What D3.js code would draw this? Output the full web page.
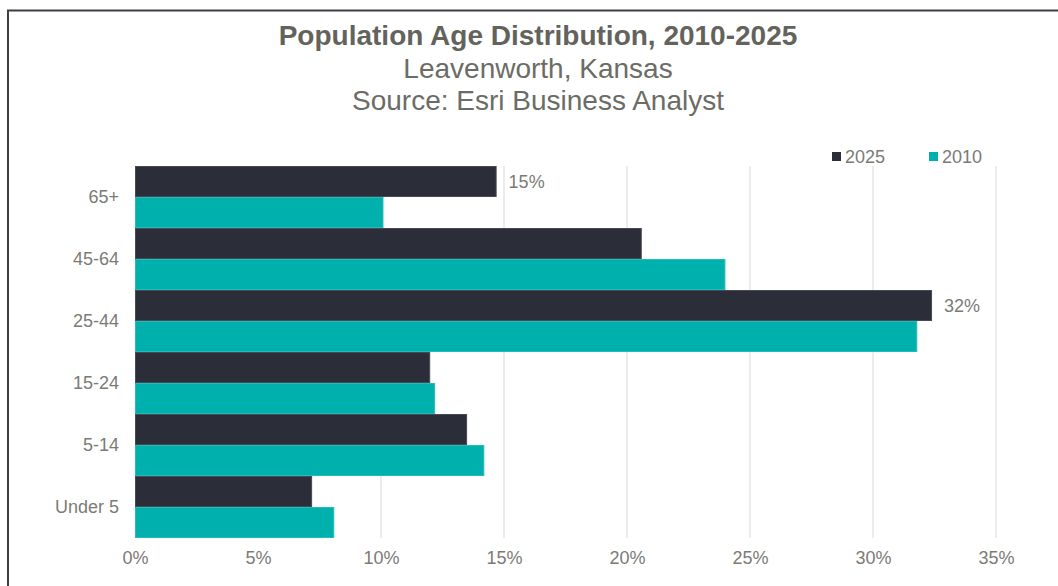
<!DOCTYPE html>
<html>
<head>
<meta charset="utf-8">
<script src="https://cdn.jsdelivr.net/npm/d3@7"></script>
<style>
  body { margin: 0; background: #fff; }
  text { font-family: Arial, "Liberation Sans", sans-serif; }
</style>
</head>
<body>
<script>
// Data
const categories = ["65+", "45-64", "25-44", "15-24", "5-14", "Under 5"];
const seriesNames = ["2025", "2010"];
const values2025 = [14.7, 20.6, 32.4, 12.0, 13.5, 7.2];
const values2010 = [10.1, 24.0, 31.8, 12.2, 14.2, 8.1];
const tickValues = [0, 5, 10, 15, 20, 25, 30, 35];
const labelled2025 = ["65+", "25-44"];

const width = 1058;
const height = 586;
const colors = { "2025": "#2b2e39", "2010": "#00b0ad" };
const edges = { "2025": "#464a54", "2010": "#22bdba" };
const labelColor = "#7b7b76";

const plot = { left: 135, right: 996, top: 166, bottom: 538 };

const svg = d3
  .select("body")
  .append("svg")
  .attr("width", width)
  .attr("height", height)
  .attr("viewBox", `0 0 ${width} ${height}`);

// Frame
svg
  .append("path")
  .attr("d", `M8,${height} L8,10.5 L${width},10.5`)
  .attr("fill", "none")
  .attr("stroke", "#3d3f44")
  .attr("stroke-width", 2);

// Titles
const titles = [
  { text: "Population Age Distribution, 2010-2025", y: 45, size: 28, weight: "bold", fill: "#63635c" },
  { text: "Leavenworth, Kansas", y: 78, size: 28, weight: "normal", fill: "#6c6c66" },
  { text: "Source: Esri Business Analyst", y: 110, size: 28, weight: "normal", fill: "#6c6c66" },
];
svg
  .selectAll(".title")
  .data(titles)
  .enter()
  .append("text")
  .attr("class", "title")
  .attr("x", 538)
  .attr("y", (d) => d.y)
  .attr("text-anchor", "middle")
  .attr("font-size", (d) => d.size)
  .attr("font-weight", (d) => d.weight)
  .attr("fill", (d) => d.fill)
  .text((d) => d.text);

// Scales
const x = d3.scaleLinear().domain([0, 35]).range([plot.left, plot.right]);
const y = d3
  .scaleBand()
  .domain(categories)
  .range([plot.top, plot.bottom])
  .paddingInner(0)
  .paddingOuter(0);
const ySub = d3
  .scaleBand()
  .domain(seriesNames)
  .range([0, y.bandwidth()]);

// Gridlines
svg
  .append("g")
  .selectAll("line")
  .data(tickValues.slice(1))
  .enter()
  .append("line")
  .attr("x1", (d) => x(d))
  .attr("x2", (d) => x(d))
  .attr("y1", plot.top)
  .attr("y2", plot.bottom)
  .attr("stroke", "#dcdfe4")
  .attr("stroke-width", 1.2);

// Bars
const rows = categories.map((c, i) => ({
  category: c,
  series: [
    { name: "2025", value: values2025[i] },
    { name: "2010", value: values2010[i] },
  ],
}));

svg
  .append("g")
  .selectAll("g")
  .data(rows)
  .enter()
  .append("g")
  .attr("transform", (d) => `translate(0, ${y(d.category)})`)
  .selectAll("rect")
  .data((d) => d.series)
  .enter()
  .append("rect")
  .attr("x", x(0) + 0.5)
  .attr("y", (d) => ySub(d.name) + 0.5)
  .attr("width", (d) => x(d.value) - x(0) - 1)
  .attr("height", ySub.bandwidth() - 1)
  .attr("fill", (d) => colors[d.name])
  .attr("stroke", (d) => edges[d.name])
  .attr("stroke-width", 1);

// Data labels
svg
  .append("g")
  .selectAll("text")
  .data(rows.filter((d) => labelled2025.includes(d.category)))
  .enter()
  .append("text")
  .attr("x", (d) => x(d.series[0].value) + 12)
  .attr("y", (d) => y(d.category) + ySub("2025") + ySub.bandwidth() / 2)
  .attr("dy", "0.35em")
  .attr("font-size", 18)
  .attr("fill", labelColor)
  .text((d) => `${Math.round(d.series[0].value)}%`);

// Category axis
const yAxis = svg
  .append("g")
  .attr("transform", `translate(${plot.left}, 0)`)
  .call(d3.axisLeft(y).tickSize(0).tickPadding(16));
yAxis.select(".domain").remove();
yAxis
  .selectAll("text")
  .attr("font-family", "Arial, 'Liberation Sans', sans-serif")
  .attr("font-size", 18)
  .attr("fill", labelColor);

// Value axis
const xAxis = svg
  .append("g")
  .attr("transform", `translate(0, ${plot.bottom})`)
  .call(
    d3
      .axisBottom(x)
      .tickValues(tickValues)
      .tickSize(0)
      .tickPadding(13)
      .tickFormat((d) => `${d}%`)
  );
xAxis.select(".domain").remove();
xAxis
  .selectAll("text")
  .attr("font-family", "Arial, 'Liberation Sans', sans-serif")
  .attr("font-size", 18)
  .attr("fill", labelColor);

// Legend
const legend = svg
  .append("g")
  .selectAll("g")
  .data(seriesNames)
  .enter()
  .append("g")
  .attr("transform", (d, i) => `translate(${832 + i * 97}, 152)`);
legend
  .append("rect")
  .attr("width", 9)
  .attr("height", 9)
  .attr("fill", (d) => colors[d]);
legend
  .append("text")
  .attr("x", 13)
  .attr("y", 5)
  .attr("dy", "0.35em")
  .attr("font-size", 18)
  .attr("fill", labelColor)
  .text((d) => d);
</script>
</body>
</html>
